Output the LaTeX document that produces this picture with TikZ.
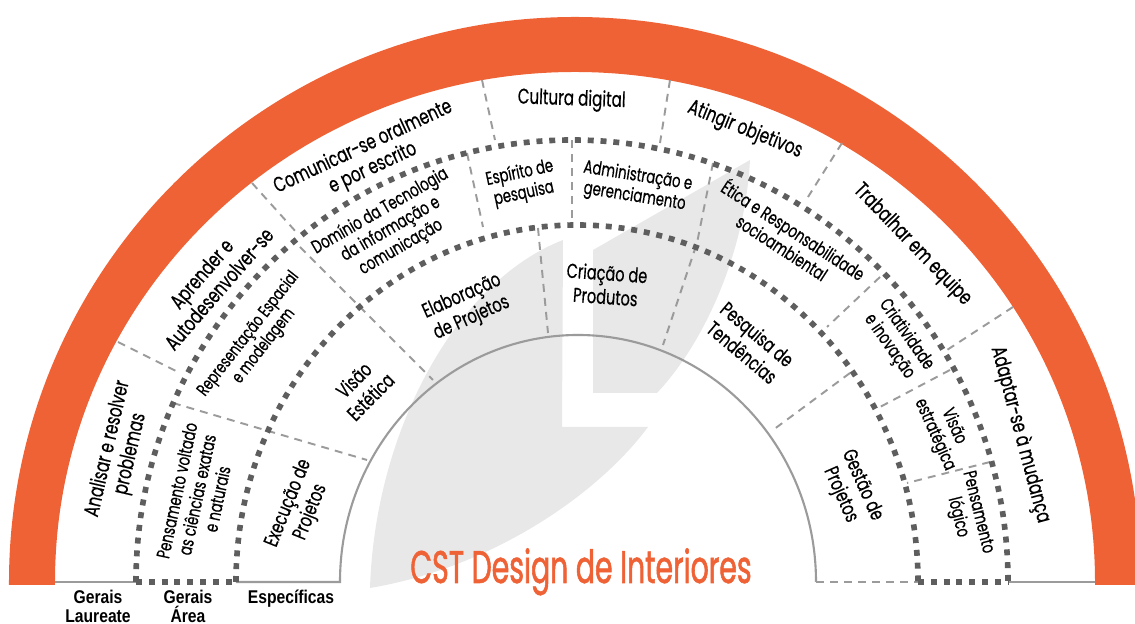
\documentclass[tikz,border=0pt]{standalone}
\usepackage{fontspec}
\setmainfont{Poppins}[FakeStretch=0.72, FakeBold=0.5]
\newfontfamily\titfont{Poppins}[FakeStretch=0.62, FakeBold=1.2]
\newfontfamily\legfont{Liberation Sans}[FakeStretch=0.85]
\usepackage{tikz}
\definecolor{laranja}{HTML}{EF6236}
\definecolor{cinza}{HTML}{9B9B9B}
\definecolor{cinzaEsc}{HTML}{5E5E5E}

\begin{document}
\begin{tikzpicture}[x=0.02cm, y=0.02cm, inner sep=0pt]
            \useasboundingbox (-575,-42) rectangle (560,582);

            \tikzstyle{marca}=[fill=black!9];
            \tikzstyle{anel}=[fill=laranja];
            \tikzstyle{linhaBase}=[draw=cinza, line width=1.2pt];
            \tikzstyle{divisa}=[draw=cinza, line width=1.1pt, dash pattern=on 4.5pt off 3.5pt];
            \tikzstyle{anelPont}=[draw=cinzaEsc, line width=3.2pt, dash pattern=on 3.4pt off 3.9pt];
            \tikzstyle{txtG}=[align=center, font=\fontsize{12}{13.2}\selectfont];
            \tikzstyle{txtA}=[align=center, font=\fontsize{10.5}{11.8}\selectfont];
            \tikzstyle{txtE}=[align=center, font=\fontsize{11.5}{13.5}\selectfont];
            \tikzstyle{leg}=[align=center, font=\legfont\bfseries\fontsize{10.5}{10.8}\selectfont];

            \fill[marca] (-13,155) -- (73,155) .. controls (25,90) and (-80,15) .. (-205,-6)
                .. controls (-200,150) and (-120,300) .. (-12,342) -- cycle;
            \fill[marca] (18,189) -- (18,332) -- (175,422) .. controls (170,330) and (130,240) .. (82,189) -- cycle;

            \fill[anel] (-566,-3) -- (-566,0) arc[start angle=180, end angle=0, x radius=566, y radius=565]
                -- (566,-3) -- (520,-3) -- (520,0) arc[start angle=0, end angle=180, x radius=520, y radius=510]
                -- (-520,-3) -- cycle;

            \draw[linhaBase] (-520,0) -- (-439,0);
            \draw[linhaBase] (-339,0) -- (-235,0) arc[start angle=180, end angle=0, x radius=238, y radius=247];
            \draw[divisa] (241,0) -- (343,0);
            \draw[linhaBase] (433,0) -- (520,0);

            \draw[divisa] (-457,240) -- (-395,209);
            \draw[divisa] (-323,399) -- (-278,349);
            \draw[divisa] (-93,502) -- (-80,442);
            \draw[divisa] (95,502) -- (85,439);
            \draw[divisa] (267,439) -- (233,385);
            \draw[divisa] (438,275) -- (372,232);

            \draw[divisa] (-402,179) -- (-208,122);
            \draw[divisa] (-275,335) -- (-142,202);
            \draw[divisa] (-108,429) -- (-92,355);
            \draw[divisa] (-37,354) -- (-27,249);
            \draw[divisa] (-3,442) -- (-3,360);
            \draw[divisa] (138,419) -- (122,339) -- (88,237);
            \draw[divisa] (305,305) -- (252,255);
            \draw[divisa] (275,209) -- (198,152);
            \draw[divisa] (375,212) -- (305,175);
            \draw[divisa] (415,120) -- (332,99);

            \draw[anelPont] (-439,0) arc[start angle=180, end angle=0, x radius=436, y radius=442];
            \draw[anelPont] (-339,0) arc[start angle=180, end angle=0, x radius=341, y radius=357];
            \draw[anelPont] (-439,0) -- (-339,0);
            \draw[anelPont] (343,0) -- (433,0);

            \node[txtG, rotate=77] (g1) at (164:474) {Analisar e resolver\\problemas};
            \node[txtG, rotate=49] (g2) at (140.5:473) {Aprender e\\Autodesenvolver-se};
            \node[txtG, rotate=25] (g3) at (116:472) {Comunicar-se oralmente\\e por escrito};
            \node[txtG, rotate=-2] (g4) at (90.4:482) {Cultura digital};
            \node[txtG, rotate=-22] (g5) at (69.4:483) {Atingir objetivos};
            \node[txtG, rotate=-46] (g6) at (45:477) {Trabalhar em equipe};
            \node[txtG, rotate=-75] (g7) at (18.3:469) {Adaptar-se à mudança};

            \node[txtA, rotate=78] (a1) at (167:388) {Pensamento voltado\\as ciências exatas\\e naturais};
            \node[txtA, rotate=52, font=\fontsize{10}{11.2}\selectfont] (a2) at (142.8:400) {Representação Espacial\\e modelagem};
            \node[txtA, rotate=30] (a3) at (117.6:398) {Domínio da Tecnologia\\da informação e\\comunicação};
            \node[txtA, rotate=12] (a4) at (97.6:402) {Espírito de\\pesquisa};
            \node[txtA, rotate=-9] (a5) at (81.2:400) {Administração e\\gerenciamento};
            \node[txtA, rotate=-33] (a6) at (58.2:405) {Ética e Responsabilidade\\socioambiental};
            \node[txtA, rotate=-55] (a7) at (36.8:403) {Criatividade\\e inovação};
            \node[txtA, rotate=-66] (a8) at (22.3:399) {Visão\\estratégica};
            \node[txtA, rotate=-76] (a9) at (9.7:398) {Pensamento\\lógico};

            \node[txtE, rotate=68] (e1) at (164.9:285) {Execução de\\Projetos};
            \node[txtE, rotate=45] (e2) at (137.7:288) {Visão\\Estética};
            \node[txtE, rotate=24] (e3) at (111.5:295) {Elaboração\\de Projetos};
            \node[txtE, rotate=-4] (e4) at (84:299) {Criação de\\Produtos};
            \node[txtE, rotate=-40] (e5) at (53.8:296) {Pesquisa de\\Tendências};
            \node[txtE, rotate=-66] (e6) at (18.4:291) {Gestão de\\Projetos};

            \node[font=\titfont\fontsize{26}{30}\selectfont, text=laranja, anchor=base] (titulo) at (6,-1) {CST Design de Interiores};

            \node[leg, anchor=north] (l1) at (-477,-8) {Gerais\\Laureate};
            \node[leg, anchor=north] (l2) at (-387,-8) {Gerais\\Área};
            \node[leg, anchor=north] (l3) at (-284,-8) {Específicas};
         \end{tikzpicture}
\end{document}
